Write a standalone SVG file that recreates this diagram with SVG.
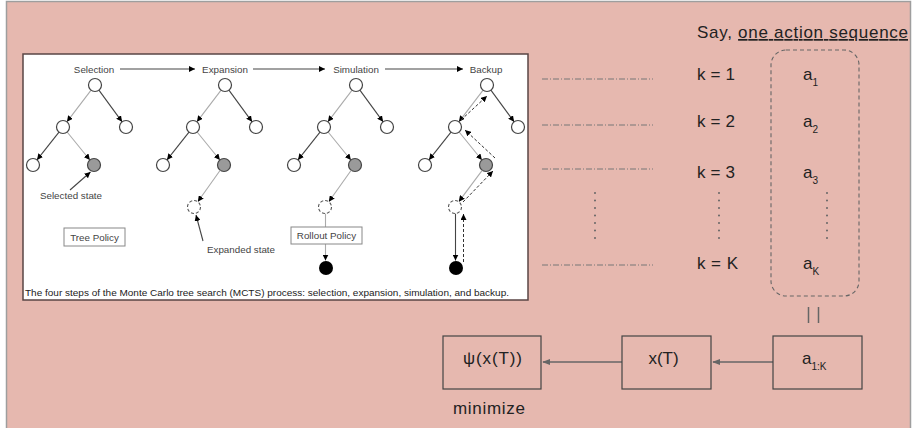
<svg xmlns="http://www.w3.org/2000/svg" xmlns:xlink="http://www.w3.org/1999/xlink" width="912" height="428" viewBox="0 0 912 428">
<style>
.t{font-family:"Liberation Sans",Arial,sans-serif;fill:#222}
.s{font-family:"Liberation Sans",Arial,sans-serif;fill:#444}
.n{fill:#fff;stroke:#444;stroke-width:1.2}
.g{fill:#9a9a9a;stroke:#444;stroke-width:1.2}
.d{fill:#fff;stroke:#555;stroke-width:1.1;stroke-dasharray:3 2}
.b{fill:#000}
.ed{stroke:#444;stroke-width:1.1;fill:none}
.el{stroke:#aaa;stroke-width:1.1;fill:none}
.bk{stroke:#333;stroke-width:1;fill:none;stroke-dasharray:3 2}
.dd{stroke:#777;stroke-width:1;stroke-dasharray:6 2 1 2;fill:none}
.dot{stroke:#666;stroke-width:2;stroke-linecap:round;stroke-dasharray:0 7.5;fill:none}
.box{fill:none;stroke:#444;stroke-width:1.2}
.cn{stroke:#666;stroke-width:1.3;fill:none}
</style>
<defs>
<marker id="ah" viewBox="0 0 10 10" refX="10" refY="5" markerWidth="6" markerHeight="6" orient="auto" markerUnits="userSpaceOnUse"><path d="M0,0L10,5L0,10z" fill="#000"/></marker>
<marker id="ag" viewBox="0 0 10 10" refX="9" refY="5" markerWidth="8" markerHeight="8" orient="auto" markerUnits="userSpaceOnUse"><path d="M0,1L10,5L0,9z" fill="#666"/></marker>
<g id="tree">
<line class="el" x1="-3.9" y1="90.2" x2="-28.1" y2="121.8" marker-end="url(#ah)"/>
<line class="ed" x1="3.9" y1="90.2" x2="27.1" y2="121.8" marker-end="url(#ah)"/>
<line class="ed" x1="-36" y1="132.1" x2="-58" y2="159.9" marker-end="url(#ah)"/>
<line class="el" x1="-27.9" y1="132" x2="-5.1" y2="160" marker-end="url(#ah)"/>
<circle class="n" cx="0" cy="85" r="6.5"/>
<circle class="n" cx="-32" cy="127" r="6.5"/>
<circle class="n" cx="31" cy="127" r="6.5"/>
<circle class="n" cx="-62" cy="165" r="6.5"/>
<circle class="g" cx="-1" cy="165" r="6.5"/>
</g>
</defs>
<rect x="6.5" y="1.5" width="904" height="440" fill="#e6b8af" stroke="#9e9e9e" stroke-width="1.5"/>
<g id="mcts-figure">
<rect x="23" y="54" width="505" height="246" fill="#fff" stroke="#5a4545" stroke-width="1.5"/>
<g id="stage-labels">
<text class="s" x="94" y="72.5" font-size="9.8" text-anchor="middle">Selection</text>
<text class="s" x="225" y="72.5" font-size="9.8" text-anchor="middle">Expansion</text>
<text class="s" x="356" y="72.5" font-size="9.8" text-anchor="middle">Simulation</text>
<text class="s" x="486" y="72.5" font-size="9.8" text-anchor="middle">Backup</text>
<line class="ed" x1="120" y1="69" x2="195" y2="69" marker-end="url(#ah)"/>
<line class="ed" x1="253" y1="69" x2="325" y2="69" marker-end="url(#ah)"/>
<line class="ed" x1="385" y1="69" x2="463" y2="69" marker-end="url(#ah)"/>
</g>
<g id="tree-selection">
<use xlink:href="#tree" href="#tree" x="95"/>
<line class="ed" x1="70" y1="190" x2="90.5" y2="172" marker-end="url(#ah)"/>
<text class="s" x="71" y="198.5" font-size="9.8" text-anchor="middle">Selected state</text>
<rect x="64" y="228" width="61" height="18" fill="#fff" stroke="#888" stroke-width="1"/>
<text class="s" x="94.5" y="240.5" font-size="9.8" text-anchor="middle">Tree Policy</text>
</g>
<g id="tree-expansion">
<use xlink:href="#tree" href="#tree" x="225"/>
<line class="el" x1="220.2" y1="170.3" x2="197.8" y2="201.7" marker-end="url(#ah)"/>
<circle class="d" cx="194" cy="207" r="6.5"/>
<line class="ed" x1="203" y1="241" x2="196" y2="215" marker-end="url(#ah)"/>
<text class="s" x="241" y="252.5" font-size="9.8" text-anchor="middle">Expanded state</text>
</g>
<g id="tree-simulation">
<use xlink:href="#tree" href="#tree" x="356"/>
<line class="el" x1="351.2" y1="170.3" x2="328.8" y2="201.7" marker-end="url(#ah)"/>
<line class="el" x1="325.5" y1="213.5" x2="325.5" y2="260.5" marker-end="url(#ah)"/>
<circle class="d" cx="325" cy="207" r="6.5"/>
<rect x="291" y="227" width="71" height="17" fill="#fff" stroke="#888" stroke-width="1"/>
<text class="s" x="326.5" y="239.3" font-size="9.8" text-anchor="middle">Rollout Policy</text>
<circle class="b" cx="326" cy="268" r="7"/>
</g>
<g id="tree-backup">
<use xlink:href="#tree" href="#tree" x="487"/>
<line class="el" x1="482.2" y1="170.3" x2="458.8" y2="201.7" marker-end="url(#ah)"/>
<line class="ed" x1="455.5" y1="213.5" x2="455.5" y2="260.5" marker-end="url(#ah)"/>
<circle class="d" cx="455" cy="207" r="6.5"/>
<circle class="b" cx="456" cy="268" r="7"/>
<line class="bk" x1="463.5" y1="262" x2="463.5" y2="214" marker-end="url(#ah)"/>
<line class="bk" x1="463" y1="202" x2="493" y2="171" marker-end="url(#ah)"/>
<line class="bk" x1="495" y1="158" x2="465" y2="130" marker-end="url(#ah)"/>
<line class="bk" x1="461" y1="120" x2="487" y2="96" marker-end="url(#ah)"/>
</g>
<text class="t" x="25" y="295.5" font-size="9" textLength="484" lengthAdjust="spacingAndGlyphs">The four steps of the Monte Carlo tree search (MCTS) process: selection, expansion, simulation, and backup.</text>
</g>
<g id="connectors">
<line class="dd" x1="542" y1="79" x2="653" y2="79"/>
<line class="dd" x1="542" y1="125" x2="653" y2="125"/>
<line class="dd" x1="542" y1="169" x2="653" y2="169"/>
<line class="dd" x1="542" y1="265" x2="653" y2="265"/>
<line class="dot" x1="595" y1="193" x2="595" y2="244"/>
<line class="dot" x1="719" y1="193" x2="719" y2="244"/>
<line class="dot" x1="827" y1="193" x2="827" y2="244"/>
<line x1="808.5" y1="307" x2="808.5" y2="323" stroke="#666" stroke-width="1.5"/>
<line x1="818.5" y1="307" x2="818.5" y2="323" stroke="#666" stroke-width="1.5"/>
<line class="cn" x1="773" y1="362" x2="713" y2="362" marker-end="url(#ag)"/>
<line class="cn" x1="622" y1="362" x2="543" y2="362" marker-end="url(#ag)"/>
</g>
<g id="title">
<text class="t" x="697" y="38" font-size="17" textLength="211" lengthAdjust="spacing">Say, <tspan text-decoration="underline">one action sequence</tspan></text>
</g>
<g id="k-labels">
<text class="t" x="697" y="80" font-size="17" textLength="38">k = 1</text>
<text class="t" x="697" y="127" font-size="17" textLength="38">k = 2</text>
<text class="t" x="697" y="178" font-size="17" textLength="38">k = 3</text>
<text class="t" x="697" y="269" font-size="17" textLength="41">k = K</text>
</g>
<g id="action-sequence">
<rect x="771" y="50" width="88" height="246" rx="15" ry="15" fill="none" stroke="#666" stroke-width="1.1" stroke-dasharray="4 3"/>
<text class="t" x="803" y="80" font-size="17">a<tspan font-size="10" dy="6">1</tspan></text>
<text class="t" x="803" y="127" font-size="17">a<tspan font-size="10" dy="6">2</tspan></text>
<text class="t" x="803" y="178" font-size="17">a<tspan font-size="10" dy="6">3</tspan></text>
<text class="t" x="803" y="269" font-size="17">a<tspan font-size="10" dy="6">K</tspan></text>
</g>
<g id="psi">
<rect class="box" x="443" y="336" width="98" height="53"/>
<text class="t" x="492.5" y="364" font-size="17" text-anchor="middle" textLength="59">ψ(x(T))</text>
</g>
<g id="xT">
<rect class="box" x="622" y="336" width="89" height="53"/>
<text class="t" x="663.5" y="364" font-size="17" text-anchor="middle">x(T)</text>
</g>
<g id="a1K">
<rect class="box" x="773" y="336" width="89" height="53"/>
<text class="t" x="802" y="364" font-size="17">a<tspan font-size="10" dy="6">1:K</tspan></text>
</g>
<text class="t" x="453" y="414" font-size="17" textLength="72">minimize</text>
</svg>
